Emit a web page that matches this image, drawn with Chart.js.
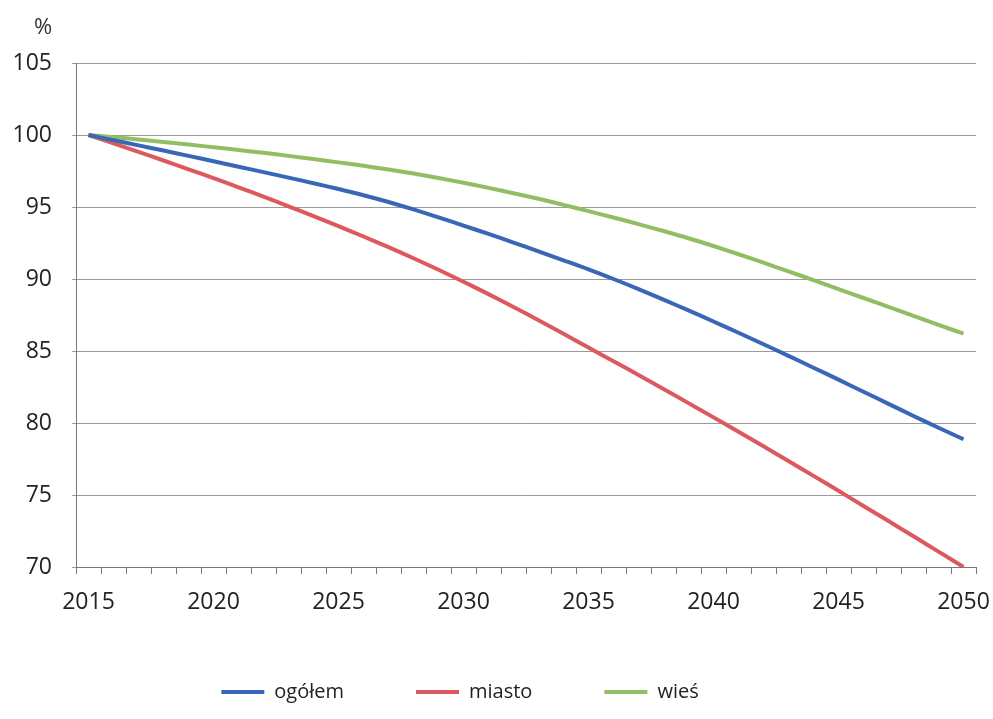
<!DOCTYPE html>
<html>
<head>
<meta charset="utf-8">
<script src="https://cdn.jsdelivr.net/npm/chart.js@4"></script>
<style>
  body { margin: 0; background: #fff; }
  #wrap { width: 993px; height: 719px; position: relative; }
</style>
</head>
<body>
<div id="wrap"><canvas id="popChart"></canvas></div>
<script>
// years on the x axis
const years = [2015, 2016, 2017, 2018, 2019, 2020, 2021, 2022, 2023, 2024,
  2025, 2026, 2027, 2028, 2029, 2030, 2031, 2032, 2033, 2034,
  2035, 2036, 2037, 2038, 2039, 2040, 2041, 2042, 2043, 2044,
  2045, 2046, 2047, 2048, 2049, 2050];

// population index, 2015 = 100
const ogolem = [100, 99.64, 99.28, 98.92, 98.55, 98.18, 97.80, 97.42, 97.04, 96.65,
  96.25, 95.82, 95.35, 94.83, 94.28, 93.71, 93.13, 92.53, 91.92, 91.30,
  90.67, 90.00, 89.30, 88.57, 87.82, 87.05, 86.27, 85.47, 84.66, 83.84,
  83.01, 82.17, 81.33, 80.49, 79.67, 78.87];
const miasto = [100, 99.42, 98.83, 98.23, 97.62, 97.00, 96.37, 95.72, 95.05, 94.37,
  93.67, 92.95, 92.21, 91.44, 90.64, 89.81, 88.95, 88.06, 87.14, 86.20,
  85.24, 84.29, 83.33, 82.36, 81.38, 80.39, 79.39, 78.38, 77.36, 76.33,
  75.29, 74.24, 73.19, 72.13, 71.07, 70.00];
const wies = [100, 99.85, 99.69, 99.52, 99.34, 99.15, 98.96, 98.76, 98.55, 98.33,
  98.10, 97.86, 97.60, 97.32, 97.01, 96.68, 96.33, 95.96, 95.57, 95.15,
  94.71, 94.27, 93.81, 93.33, 92.83, 92.29, 91.72, 91.13, 90.53, 89.92,
  89.30, 88.68, 88.06, 87.44, 86.82, 86.20];

const seriesNames = ['ogółem', 'miasto', 'wieś'];
const seriesColors = ['#3a66b8', '#dc5a5f', '#93bd62'];
const yMin = 70, yMax = 105, yStep = 5;

const FONT = '"Open Sans", "DejaVu Sans", sans-serif';

// "%" above the y axis labels, and nudge the legend to the left
const extras = {
  id: 'extras',
  afterLayout(chart) {
    chart.legend.left -= 34;
    chart.legend.right -= 34;
  },
  afterDraw(chart) {
    const ctx = chart.ctx;
    ctx.save();
    ctx.font = '22px ' + FONT;
    ctx.fillStyle = '#333';
    ctx.textAlign = 'center';
    ctx.textBaseline = 'middle';
    ctx.fillText('%', 43, 28);
    ctx.restore();
  }
};

const ctx = document.getElementById('popChart').getContext('2d');
const popChart = new Chart(ctx, {
  type: 'line',
  data: {
    labels: years,
    datasets: [ogolem, miasto, wies].map((vals, i) => ({
      label: seriesNames[i],
      data: vals,
      borderColor: seriesColors[i],
      backgroundColor: seriesColors[i],
      borderWidth: 4,
      pointRadius: 0,
      tension: 0.3
    }))
  },
  options: {
    responsive: true,
    maintainAspectRatio: false,
    animation: false,
    layout: { padding: { left: 12, right: 17, top: 63, bottom: 7 } },
    plugins: {
      tooltip: { enabled: false },
      legend: {
        position: 'bottom',
        labels: {
          boxWidth: 43,
          boxHeight: 4,
          padding: 72,
          color: '#222',
          font: { family: FONT, size: 20 },
          generateLabels(chart) {
            const items = Chart.defaults.plugins.legend.labels.generateLabels(chart);
            items.forEach(item => { item.lineWidth = 0; item.strokeStyle = item.fillStyle; });
            return items;
          }
        }
      }
    },
    scales: {
      x: {
        type: 'category',
        offset: true,
        grid: { offset: true, drawOnChartArea: false, drawTicks: true, tickLength: 7, color: '#777' },
        border: { display: true, color: '#777' },
        ticks: {
          autoSkip: false,
          maxRotation: 0,
          padding: 15,
          color: '#222',
          font: { family: FONT, size: 23 },
          callback: function (value) {
            const y = years[value];
            return y % 5 === 0 ? String(y) : '';
          }
        },
        afterFit(scale) {
          scale.height = 43;
          scale.paddingLeft = 0;
          scale.paddingRight = 0;
        }
      },
      y: {
        min: yMin,
        max: yMax,
        grid: { color: '#9a9a9a', tickLength: 4, drawTicks: true },
        border: { display: true, color: '#777' },
        ticks: {
          stepSize: yStep,
          padding: 20,
          color: '#222',
          font: { family: FONT, size: 23 }
        },
        afterFit(scale) { scale.width = 64; }
      }
    }
  },
  plugins: [extras]
});
</script>
</body>
</html>
